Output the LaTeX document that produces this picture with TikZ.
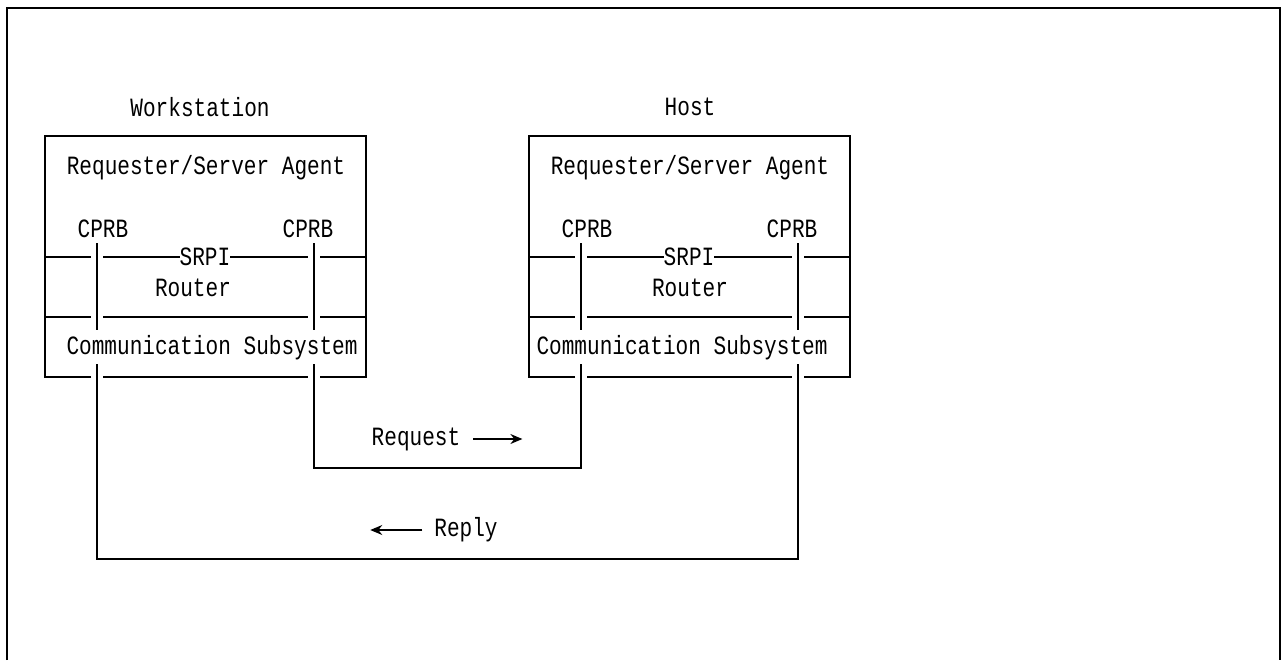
\documentclass[tikz,border=0pt]{standalone}
\usepackage{fontspec}
\newfontfamily\boxfont{Liberation Mono}[FakeStretch=0.8]
\usepackage{tikz}
\usetikzlibrary{arrows.meta,positioning,calc}

\tikzset{
  lbl/.style={font=\boxfont\fontsize{15}{17}\selectfont, inner sep=1pt},
  wire/.style={line width=0.9pt, black},
  flow/.style={-{Stealth[length=2.4mm,width=2mm]}, line width=0.7pt},
}

\begin{document}
\begin{tikzpicture}[x=0.02cm,y=-0.02cm]
  \useasboundingbox (0,0) rectangle (1284,660);
  % outer frame
  \draw[wire] (7,660) -- (7,8) -- (1280,8) -- (1280,660);

  \foreach \n/\o/\t/\tx/\rx/\cx in {ws/0/Workstation/200/193/212,host/484/Host/690/690/682}{
    \node[lbl] (\n-title)  at (\tx,107)       {\t};
    \node[lbl] (\n-agent)  at ({\o+206},168)  {Requester/Server Agent};
    \node[lbl] (\n-cprbl)  at ({\o+103},229)  {CPRB};
    \node[lbl] (\n-cprbr)  at ({\o+308},229)  {CPRB};
    \node[lbl] (\n-router) at (\rx,288)       {Router};
    \node[lbl] (\n-comm)   at (\cx,348)       {Communication Subsystem};
    % box, edges broken where the CPRB lines pass
    \draw[wire] ({\o+91},377) -| ({\o+45},136) -| ({\o+366},377) -- ({\o+320},377);
    \draw[wire] ({\o+103},377) -- ({\o+308},377);
    \foreach \y in {257,317}{
      \draw[wire] ({\o+45},\y)  -- ({\o+91},\y);
      \draw[wire] ({\o+103},\y) -- ({\o+308},\y);
      \draw[wire] ({\o+320},\y) -- ({\o+366},\y);
    }
    \node[lbl, fill=white, inner xsep=0pt] (\n-srpi) at ({\o+205},257) {SRPI};
    % CPRB lines through the router
    \draw[wire] ({\o+97},243)  -- ({\o+97},330);
    \draw[wire] ({\o+314},243) -- ({\o+314},330);
    \coordinate (\n-l) at ({\o+97},364);
    \coordinate (\n-r) at ({\o+314},364);
  }

  % request and reply
  \draw[wire] (ws-r) -- ++(0,104) -| (host-l);
  \draw[wire] (ws-l) -- ++(0,195) -| (host-r);

  \node[lbl] (req) at (416,439) {Request};
  \draw[flow] ([xshift=0.22cm]req.east) -- ++(49,0);
  \node[lbl] (rep) at (466,530) {Reply};
  \draw[flow] ([xshift=-0.2cm]rep.west) -- ++(-52,0);
\end{tikzpicture}
\end{document}
